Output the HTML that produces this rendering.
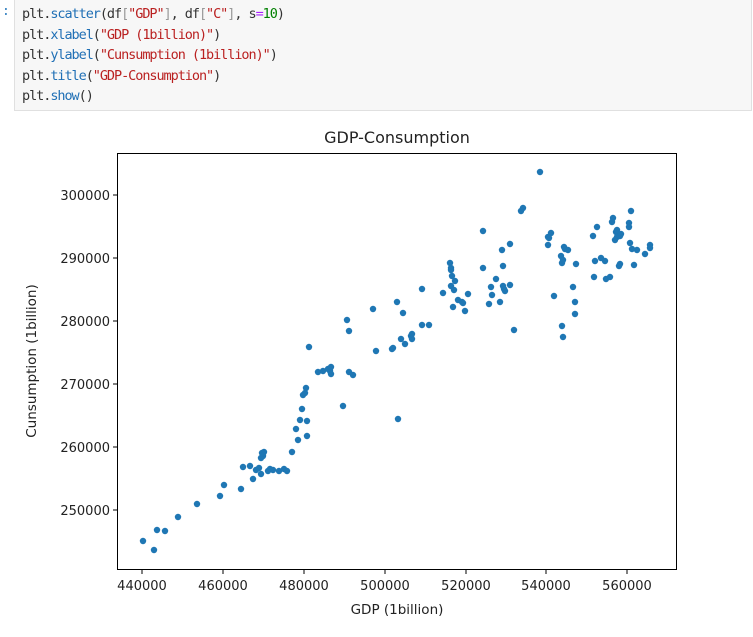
<!DOCTYPE html>
<html><head><style>
body{margin:0;width:753px;height:637px;background:#fff;overflow:hidden;position:relative;font-family:"DejaVu Sans","Liberation Sans",sans-serif}
.cell{position:absolute;left:14px;top:-1px;width:738px;height:112px;background:#f7f7f7;border:1px solid #e0e0e0;box-sizing:border-box}
.code{position:absolute;left:22px;top:4px;font-family:"DejaVu Sans Mono","Liberation Mono",monospace;font-size:13.5px;letter-spacing:-1.05px;line-height:20.5px;color:#333;white-space:pre}
.f{color:#1f6fb5}.s{color:#ba2121}.n{color:#008000}.o{color:#a2f}.g{color:#999}
.p{position:absolute;left:2px;top:4px;font-family:monospace;font-size:13px;color:#307fc1}
</style></head><body>
<div class="p">:</div>
<div class="cell"></div>
<div class="code">plt.<span class="f">scatter</span>(df<span class="g">[</span><span class="s">"GDP"</span><span class="g">]</span>, df<span class="g">[</span><span class="s">"C"</span><span class="g">]</span>, s<span class="o">=</span><span class="n">10</span>)
plt.<span class="f">xlabel</span>(<span class="s">"GDP (1billion)"</span>)
plt.<span class="f">ylabel</span>(<span class="s">"Cunsumption (1billion)"</span>)
plt.<span class="f">title</span>(<span class="s">"GDP-Consumption"</span>)
plt.<span class="f">show</span>()</div>
<svg width="753" height="637" style="position:absolute;left:0;top:0" font-family="DejaVu Sans, Liberation Sans, sans-serif">
<rect x="117.5" y="153.5" width="559" height="416" fill="none" stroke="#000" stroke-width="1"/>
<g stroke="#000">
<line x1="113" x2="117" y1="195" y2="195"/><line x1="113" x2="117" y1="258" y2="258"/><line x1="113" x2="117" y1="321" y2="321"/><line x1="113" x2="117" y1="384" y2="384"/><line x1="113" x2="117" y1="447" y2="447"/><line x1="113" x2="117" y1="510" y2="510"/>
<line y1="570" y2="574" x1="142" x2="142"/><line y1="570" y2="574" x1="223" x2="223"/><line y1="570" y2="574" x1="304" x2="304"/><line y1="570" y2="574" x1="385" x2="385"/><line y1="570" y2="574" x1="466" x2="466"/><line y1="570" y2="574" x1="546" x2="546"/><line y1="570" y2="574" x1="627" x2="627"/>
</g>
<g font-size="13" fill="#222" text-anchor="end">
<text x="110" y="200">300000</text><text x="110" y="263">290000</text><text x="110" y="326">280000</text><text x="110" y="389">270000</text><text x="110" y="452">260000</text><text x="110" y="515">250000</text>
</g>
<g font-size="13" fill="#222" text-anchor="middle">
<text x="142" y="590">440000</text><text x="223" y="590">460000</text><text x="304" y="590">480000</text><text x="385" y="590">500000</text><text x="466" y="590">520000</text><text x="546" y="590">540000</text><text x="627" y="590">560000</text>
<text x="397" y="614" font-size="13.5">GDP (1billion)</text>
<text x="397" y="143" font-size="16">GDP-Consumption</text>
<text transform="translate(36,361) rotate(-90)" font-size="13.5">Cunsumption (1billion)</text>
</g>
<g fill="#1f77b4" id="pts"></g>
</svg>
<script>
var P=[[143,541],[154,550],[157,530],[165,531],[178,517],[197,504],[220,496],[224,485],[241,489],[243,467],[250,466],[253,479],[256,470],[259,468],[261,474],[263,456],[264,452],[268,471],[270,469],[273,470],[279,471],[284,469],[287,471],[292,452],[296,429],[298,440],[300,420],[302,409],[303,395],[305,393],[306,388],[307,421],[307,436],[309,347],[318,372],[323,371],[328,369],[330,371],[331,374],[331,367],[343,406],[347,320],[349,331],[349,372],[353,375],[373,309],[376,351],[392,349],[393,348],[397,302],[398,419],[401,339],[403,313],[405,344],[411,336],[412,339],[412,334],[422,289],[422,325],[429,325],[443,293],[450,263],[451,268],[451,270],[452,276],[451,286],[454,290],[453,307],[455,281],[458,300],[462,302],[463,303],[465,311],[468,294],[483,231],[483,268],[489,304],[491,287],[492,295],[496,279],[500,302],[502,250],[503,266],[503,286],[504,289],[505,291],[510,244],[510,285],[514,330],[521,211],[523,208],[540,172],[548,237],[548,245],[549,238],[551,233],[554,296],[561,256],[562,326],[563,337],[562,263],[563,260],[564,247],[565,249],[568,250],[573,287],[575,314],[575,302],[576,264],[593,236],[594,277],[595,261],[597,227],[601,258],[605,261],[606,279],[610,277],[612,222],[613,218],[616,232],[617,230],[615,240],[617,237],[620,264],[619,266],[620,236],[621,234],[630,243],[629,227],[629,223],[631,211],[632,249],[634,265],[637,250],[645,254],[650,245],[650,248],[261,458],[262,453]];
var g=document.getElementById('pts'),h='';
P.forEach(function(p){h+='<circle cx="'+p[0]+'" cy="'+p[1]+'" r="3.2"/>';});
g.innerHTML=h;
</script>
</body></html>
